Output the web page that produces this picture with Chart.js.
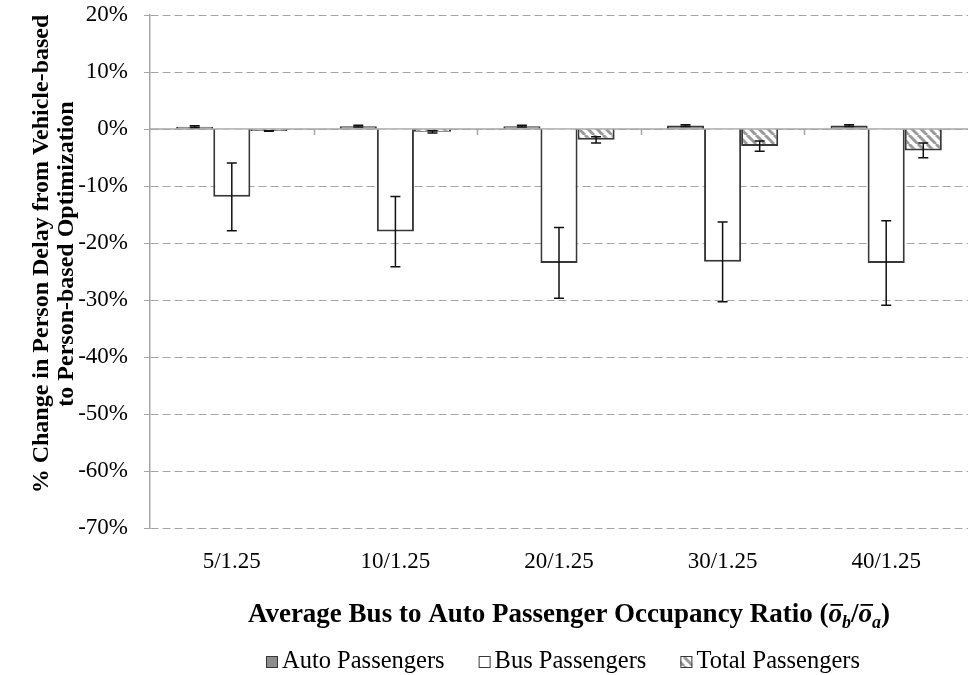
<!DOCTYPE html>
<html lang="en">
<head>
    <meta charset="UTF-8">
    <title>% Change in Person Delay</title>
    <script src="https://cdn.jsdelivr.net/npm/chart.js"></script>
    <style>
        body {
            margin: 0;
            background: #fff;
        }
        .chart-container {
            width: 971px;
            height: 675px;
        }
    </style>
</head>
<body>

    <div class="chart-container">
        <canvas id="delayChart"></canvas>
    </div>

    <script>
        // Data
        const categories = ['5/1.25', '10/1.25', '20/1.25', '30/1.25', '40/1.25'];
        const autoValues = [0.4, 0.5, 0.5, 0.6, 0.6];
        const autoErrors = [0.15, 0.15, 0.15, 0.15, 0.15];
        const busValues = [-11.9, -18.0, -23.5, -23.3, -23.5];
        const busErrors = [5.95, 6.15, 6.2, 7.0, 7.4];
        const totalValues = [-0.35, -0.5, -1.9, -3.0, -3.75];
        const totalErrors = [0.05, 0.2, 0.55, 0.9, 1.3];
        const yMin = -70;
        const yMax = 20;
        const yStep = 10;
        const seriesNames = ['Auto Passengers', 'Bus Passengers', 'Total Passengers'];
        const yTitleLines = ['% Change in Person Delay from Vehicle-based', 'to Person-based Optimization'];

        const serif = '"Liberation Serif", "Times New Roman", serif';
        const gridGray = '#a6a6a6';
        const barEdge = '#383838';

        // diagonal hatch for the total series
        function makeHatch() {
            const s = 9;
            const c = document.createElement('canvas');
            c.width = s;
            c.height = s;
            const g = c.getContext('2d');
            g.fillStyle = '#fff';
            g.fillRect(0, 0, s, s);
            g.strokeStyle = '#9a9a9a';
            g.lineWidth = 3;
            for (let k = -1; k <= 1; k++) {
                g.beginPath();
                g.moveTo(k * s, 0);
                g.lineTo(k * s + s, s);
                g.stroke();
            }
            return g.createPattern(c, 'repeat');
        }
        const hatch = makeHatch();

        const datasets = [
            { label: seriesNames[0], data: autoValues, errors: autoErrors, backgroundColor: '#8c8c8c' },
            { label: seriesNames[1], data: busValues, errors: busErrors, backgroundColor: '#ffffff' },
            { label: seriesNames[2], data: totalValues, errors: totalErrors, backgroundColor: hatch }
        ].map(d => Object.assign(d, {
            borderColor: barEdge,
            borderWidth: 2,
            categoryPercentage: 0.68,
            barPercentage: 1.0
        }));

        // zero line, category ticks, error bars, titles and legend
        const extras = {
            id: 'extras',
            beforeDatasetsDraw(chart) {
                const { ctx, chartArea: a, scales: { y } } = chart;
                const y0 = y.getPixelForValue(0);
                ctx.save();
                ctx.strokeStyle = gridGray;
                ctx.lineWidth = 1.5;
                ctx.beginPath();
                ctx.moveTo(a.left, y0);
                ctx.lineTo(a.right, y0);
                const w = (a.right - a.left) / categories.length;
                for (let i = 1; i < categories.length; i++) {
                    const px = Math.round(a.left + i * w) + 0.5;
                    ctx.moveTo(px, y0);
                    ctx.lineTo(px, y0 + 6);
                }
                ctx.stroke();
                ctx.restore();
            },
            afterDatasetsDraw(chart) {
                const { ctx, scales: { y } } = chart;
                ctx.save();
                ctx.strokeStyle = '#111';
                ctx.lineWidth = 1.5;
                chart.data.datasets.forEach((ds, di) => {
                    const meta = chart.getDatasetMeta(di);
                    meta.data.forEach((bar, i) => {
                        const hi = y.getPixelForValue(ds.data[i] + ds.errors[i]);
                        const lo = y.getPixelForValue(ds.data[i] - ds.errors[i]);
                        ctx.beginPath();
                        ctx.moveTo(bar.x, hi);
                        ctx.lineTo(bar.x, lo);
                        ctx.moveTo(bar.x - 5, hi);
                        ctx.lineTo(bar.x + 5, hi);
                        ctx.moveTo(bar.x - 5, lo);
                        ctx.lineTo(bar.x + 5, lo);
                        ctx.stroke();
                    });
                });
                ctx.restore();
            },
            afterDraw(chart) {
                const { ctx, chartArea: a } = chart;
                ctx.save();
                ctx.fillStyle = '#000';

                // y title, two rotated lines
                ctx.font = 'bold 24px ' + serif;
                ctx.textAlign = 'center';
                ctx.textBaseline = 'middle';
                ctx.translate(0, 254);
                ctx.rotate(-Math.PI / 2);
                ctx.fillText(yTitleLines[0], 0, 42);
                ctx.fillText(yTitleLines[1], 0, 67);
                ctx.setTransform(1, 0, 0, 1, 0, 0);

                // x title with overlined, subscripted symbols
                const big = 'bold 27px ' + serif;
                const ital = 'bold italic 27px ' + serif;
                const sub = 'bold italic 18px ' + serif;
                const parts = [
                    { t: 'Average Bus to Auto Passenger Occupancy Ratio (', f: big, dy: 0 },
                    { t: 'o', f: ital, dy: 0, bar: true },
                    { t: 'b', f: sub, dy: 6 },
                    { t: '/', f: big, dy: 0 },
                    { t: 'o', f: ital, dy: 0, bar: true },
                    { t: 'a', f: sub, dy: 6 },
                    { t: ')', f: big, dy: 0 }
                ];
                let total = 0;
                parts.forEach(p => { ctx.font = p.f; p.w = ctx.measureText(p.t).width; total += p.w; });
                let px = (a.left + a.right) / 2 + 10 - total / 2;
                const base = 622;
                ctx.textAlign = 'left';
                ctx.textBaseline = 'alphabetic';
                parts.forEach(p => {
                    ctx.font = p.f;
                    ctx.fillText(p.t, px, base + p.dy);
                    if (p.bar) {
                        ctx.fillRect(px + 2, base - 18, p.w - 1, 1.8);
                    }
                    px += p.w;
                });

                // legend
                ctx.font = '24.5px ' + serif;
                const box = 12, gapText = 4, gapItem = 34;
                const widths = seriesNames.map(n => box + gapText + ctx.measureText(n).width);
                const full = widths.reduce((s, v) => s + v, 0) + gapItem * (seriesNames.length - 1);
                let lx = (a.left + a.right) / 2 + 4 - full / 2;
                const ly = 668;
                chart.data.datasets.forEach((ds, i) => {
                    ctx.fillStyle = ds.backgroundColor;
                    ctx.fillRect(lx, ly - 12, box, box);
                    ctx.strokeStyle = barEdge;
                    ctx.lineWidth = 1;
                    ctx.strokeRect(lx + 0.5, ly - 11.5, box - 1, box - 1);
                    ctx.fillStyle = '#000';
                    ctx.fillText(ds.label, lx + box + gapText, ly);
                    lx += widths[i] + gapItem;
                });
                ctx.restore();
            }
        };

        new Chart(document.getElementById('delayChart'), {
            type: 'bar',
            data: {
                labels: categories,
                datasets: datasets
            },
            options: {
                responsive: true,
                maintainAspectRatio: false,
                animation: false,
                layout: {
                    padding: { top: 15, right: 3, left: 0, bottom: 0 }
                },
                scales: {
                    x: {
                        afterFit: (scale) => {
                            scale.height = 147;
                            scale.paddingLeft = 0;
                            scale.paddingRight = 0;
                        },
                        grid: { display: false, drawTicks: false },
                        border: { display: false },
                        ticks: {
                            color: '#000',
                            padding: 20,
                            font: { family: serif, size: 23 }
                        }
                    },
                    y: {
                        min: yMin,
                        max: yMax,
                        afterFit: (scale) => {
                            scale.width = 150;
                            scale.paddingTop = 0;
                            scale.paddingBottom = 0;
                        },
                        ticks: {
                            stepSize: yStep,
                            color: '#000',
                            padding: 16,
                            font: { family: serif, size: 23 },
                            callback: (v) => v + '%'
                        },
                        grid: {
                            color: gridGray,
                            lineWidth: 1,
                            tickLength: 6,
                            tickColor: gridGray
                        },
                        border: {
                            color: gridGray,
                            width: 1.5,
                            dash: [8, 4]
                        }
                    }
                },
                plugins: {
                    legend: { display: false },
                    tooltip: { enabled: false }
                }
            },
            plugins: [extras]
        });
    </script>

</body>
</html>
